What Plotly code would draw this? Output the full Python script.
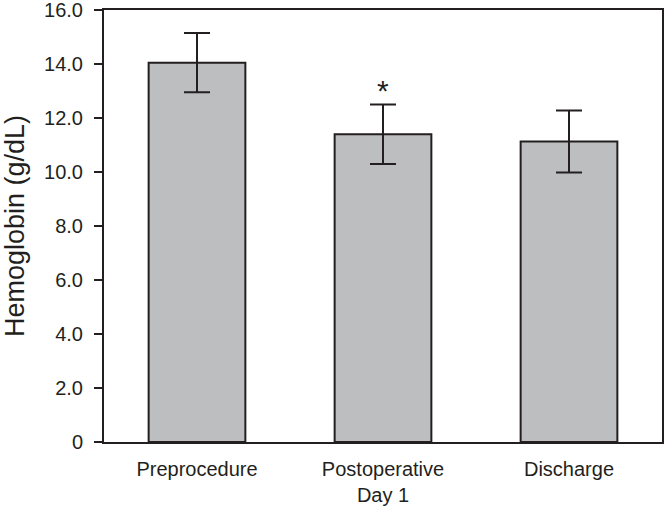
import plotly.graph_objects as go

categories = ["Preprocedure", "Postoperative<br>Day 1", "Discharge"]
means = [14.05, 11.4, 11.13]
errors = [1.1, 1.1, 1.15]
significance = ["", "*", ""]
ytick_vals = [0, 2, 4, 6, 8, 10, 12, 14, 16]
ytick_text = ["0", "2.0", "4.0", "6.0", "8.0", "10.0", "12.0", "14.0", "16.0"]

ink = "#231f20"
font_family = "Liberation Sans, Arial, Helvetica, sans-serif"

fig = go.Figure()
fig.add_trace(go.Bar(
    x=categories,
    y=means,
    width=0.52,
    marker=dict(color="#bdbec0", line=dict(color=ink, width=2)),
    error_y=dict(type="data", array=errors, visible=True, color=ink, thickness=2, width=13),
    showlegend=False,
))

for cat, m, e, s in zip(categories, means, errors, significance):
    if s:
        fig.add_annotation(x=cat, y=m + e, text=s, showarrow=False, yanchor="bottom",
                           yshift=-4, font=dict(size=30, color=ink, family=font_family))

fig.update_layout(
    width=664, height=506,
    margin=dict(l=104, r=2, t=10, b=64, autoexpand=False),
    paper_bgcolor="white", plot_bgcolor="white",
    font=dict(family=font_family, color=ink, size=20),
    bargap=0.48,
)
fig.update_xaxes(
    showline=True, linecolor=ink, linewidth=2, mirror=True,
    ticks="", showgrid=False, tickfont=dict(size=20, color=ink),
    automargin=False, ticklabelstandoff=8,
)
fig.update_yaxes(
    range=[0, 16], tickvals=ytick_vals, ticktext=ytick_text,
    showline=True, linecolor=ink, linewidth=2, mirror=True,
    ticks="outside", ticklen=8, tickwidth=2, tickcolor=ink,
    showgrid=False, zeroline=False, tickfont=dict(size=20, color=ink),
    automargin=False, ticklabelstandoff=7, ticklabeloverflow="allow",
    title=dict(text="Hemoglobin (g/dL)", font=dict(size=27, color=ink), standoff=17),
)

fig.write_html(
    "out.html",
    config={"displayModeBar": False},
    post_script="document.body.style.margin='0';document.body.style.overflow='hidden';",
)
